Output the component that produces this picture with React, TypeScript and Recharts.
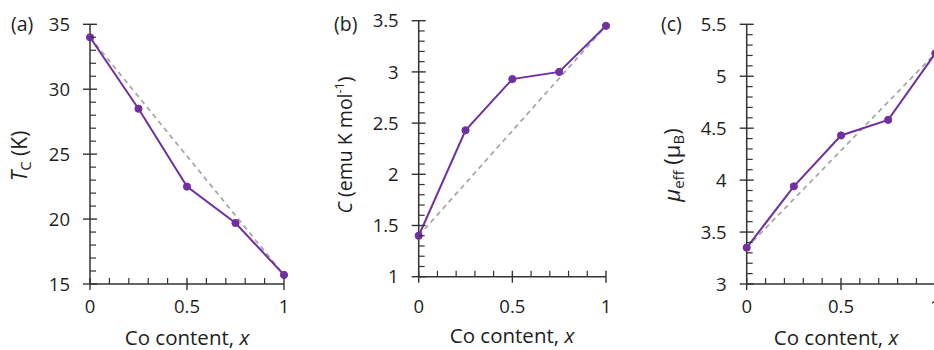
import React from 'react';
import { LineChart, Line, XAxis, YAxis } from 'recharts';

// ---------- data ----------
const coContent = [0, 0.25, 0.5, 0.75, 1];

const curieTemp = [34.0, 28.5, 22.5, 19.7, 15.7];
const curieTempTrend = [34.0, null, null, null, 15.7];

const curieConst = [1.4, 2.43, 2.93, 3.0, 3.45];
const curieConstTrend = [1.4, null, null, null, 3.45];

const muEff = [3.35, 3.94, 4.43, 4.58, 5.22];
const muEffTrend = [3.35, null, null, null, 5.22];

// ---------- ticks ----------
const xMajorTicks = [0, 0.5, 1];
const xTickLabels = ['0', '0.5', '1'];

const tcMajorTicks = [15, 20, 25, 30, 35];
const tcTickLabels = ['15', '20', '25', '30', '35'];

const cMajorTicks = [1, 1.5, 2, 2.5, 3, 3.5];
const cTickLabels = ['1', '1.5', '2', '2.5', '3', '3.5'];

const muMajorTicks = [3, 3.5, 4, 4.5, 5, 5.5];
const muTickLabels = ['3', '3.5', '4', '4.5', '5', '5.5'];

const tickRange = (start: number, stop: number, step: number) => {
  const out: number[] = [];
  const n = Math.round((stop - start) / step);
  for (let i = 0; i <= n; i++) out.push(Math.round((start + i * step) * 1000) / 1000);
  return out;
};

const xMinorTicks = tickRange(0, 1, 0.1);
const tcMinorTicks = tickRange(15, 35, 1);
const cMinorTicks = tickRange(1, 3.5, 0.1);
const muMinorTicks = tickRange(3, 5.5, 0.1);

// ---------- styles ----------
const FONT = "'Open Sans', 'Noto Sans', sans-serif";
const TEXT = '#1e1e1e';
const AXIS = '#333333';
const PURPLE = '#7030A0';
const GREY = '#A8A8A8';
const W = 940;
const H = 350;
const TICK_FS = 18.5;

const findIndex = (list: number[], v: number) => list.findIndex((m) => Math.abs(m - v) < 1e-6);

const XTick = (props: any) => {
  const { x, y, payload, labelDy } = props;
  const idx = findIndex(xMajorTicks, payload.value);
  if (idx >= 0) {
    return (
      <g>
        <line x1={x} x2={x} y1={y - 6} y2={y + 6} stroke={AXIS} strokeWidth={1.4} />
        <text x={x} y={y + labelDy} textAnchor="middle" fontFamily={FONT} fontSize={TICK_FS} fill={TEXT}>
          {xTickLabels[idx]}
        </text>
      </g>
    );
  }
  return <line x1={x} x2={x} y1={y} y2={y - 6} stroke={AXIS} strokeWidth={1.2} />;
};

const YTick = (props: any) => {
  const { x, y, payload, majors, labels } = props;
  const idx = findIndex(majors, payload.value);
  if (idx >= 0) {
    return (
      <g>
        <line x1={x - 7} x2={x + 7} y1={y} y2={y} stroke={AXIS} strokeWidth={1.4} />
        <text x={x - 20} y={y} dy="0.36em" textAnchor="end" fontFamily={FONT} fontSize={TICK_FS} fill={TEXT}>
          {labels[idx]}
        </text>
      </g>
    );
  }
  return <line x1={x} x2={x + 6} y1={y} y2={y} stroke={AXIS} strokeWidth={1.2} />;
};

type PanelProps = {
  values: number[];
  trend: (number | null)[];
  yDomain: [number, number];
  yMajors: number[];
  yLabels: string[];
  yMinors: number[];
  left: number;
  right: number;
  top: number;
  bottom: number;
  labelDy: number;
};

const Panel = (p: PanelProps) => {
  const data = coContent.map((x, i) => ({ x, value: p.values[i], trend: p.trend[i] }));
  return (
    <div style={{ position: 'absolute', left: 0, top: 0 }}>
      <LineChart
        width={W}
        height={H}
        data={data}
        margin={{ top: p.top, left: p.left - 1, right: W - p.right, bottom: H - p.bottom - 1 }}
      >
        <XAxis
          dataKey="x"
          type="number"
          domain={[0, 1]}
          ticks={xMinorTicks}
          interval={0}
          height={1}
          tickSize={0}
          tickMargin={0}
          tickLine={false}
          axisLine={{ stroke: AXIS, strokeWidth: 1.5 }}
          tick={(tp: any) => <XTick {...tp} labelDy={p.labelDy} />}
        />
        <YAxis
          type="number"
          domain={p.yDomain}
          ticks={p.yMinors}
          interval={0}
          width={1}
          tickSize={0}
          tickMargin={0}
          tickLine={false}
          allowDataOverflow
          axisLine={{ stroke: AXIS, strokeWidth: 1.5 }}
          tick={(tp: any) => <YTick {...tp} majors={p.yMajors} labels={p.yLabels} />}
        />
        <Line
          dataKey="trend"
          type="linear"
          connectNulls
          stroke={GREY}
          strokeWidth={1.8}
          strokeDasharray="5 4"
          dot={false}
          activeDot={false}
          isAnimationActive={false}
        />
        <Line
          dataKey="value"
          type="linear"
          stroke={PURPLE}
          strokeWidth={2}
          dot={{ r: 3.6, fill: PURPLE, stroke: PURPLE, strokeWidth: 1 }}
          activeDot={false}
          isAnimationActive={false}
        />
      </LineChart>
    </div>
  );
};

const XTitle = ({ cx, y }: { cx: number; y: number }) => (
  <text x={cx} y={y} textAnchor="middle" fontFamily={FONT} fontSize={20.5} fill={TEXT}>
    Co content, <tspan fontStyle="italic">x</tspan>
  </text>
);

export default function App() {
  return (
    <div
      style={{
        position: 'absolute',
        left: 0,
        top: 0,
        width: 934,
        height: 350,
        overflow: 'hidden',
        background: '#ffffff',
      }}
    >
      <Panel
        values={curieTemp}
        trend={curieTempTrend}
        yDomain={[15, 35]}
        yMajors={tcMajorTicks}
        yLabels={tcTickLabels}
        yMinors={tcMinorTicks}
        left={90}
        right={284}
        top={24.3}
        bottom={284}
        labelDy={29}
      />
      <Panel
        values={curieConst}
        trend={curieConstTrend}
        yDomain={[1, 3.5]}
        yMajors={cMajorTicks}
        yLabels={cTickLabels}
        yMinors={cMinorTicks}
        left={418.7}
        right={606}
        top={20.7}
        bottom={276.7}
        labelDy={36}
      />
      <Panel
        values={muEff}
        trend={muEffTrend}
        yDomain={[3, 5.5]}
        yMajors={muMajorTicks}
        yLabels={muTickLabels}
        yMinors={muMinorTicks}
        left={746.7}
        right={935.3}
        top={24.3}
        bottom={284}
        labelDy={29}
      />
      <svg
        width={934}
        height={350}
        style={{ position: 'absolute', left: 0, top: 0, pointerEvents: 'none' }}
      >
        {/* panel letters */}
        <text x={11} y={31} fontFamily={FONT} fontSize={19.5} fill={TEXT}>(a)</text>
        <text x={334} y={31} fontFamily={FONT} fontSize={19.5} fill={TEXT}>(b)</text>
        <text x={661} y={31} fontFamily={FONT} fontSize={19.5} fill={TEXT}>(c)</text>

        {/* x titles */}
        <XTitle cx={187} y={345} />
        <XTitle cx={512} y={343} />
        <XTitle cx={836} y={345} />

        {/* y titles */}
        <text
          transform="translate(27,156) rotate(-90)"
          textAnchor="middle"
          fontFamily={FONT}
          fontSize={21}
          fill={TEXT}
        >
          <tspan fontStyle="italic">T</tspan>
          <tspan fontSize={15} dy={4}>C</tspan>
          <tspan dy={-4}> (K)</tspan>
        </text>
        <text
          transform="translate(352,145) rotate(-90)"
          textAnchor="middle"
          fontFamily={FONT}
          fontSize={19.5}
          fill={TEXT}
        >
          <tspan fontStyle="italic">C</tspan>
          <tspan> (emu K mol</tspan>
          <tspan fontSize={12.5} dy={-8}>-1</tspan>
          <tspan dy={8}>)</tspan>
        </text>
        <text
          transform="translate(680,165) rotate(-90)"
          textAnchor="middle"
          fontFamily={FONT}
          fontSize={22}
          fill={TEXT}
        >
          <tspan fontStyle="italic">μ</tspan>
          <tspan fontSize={15} dy={4}>eff</tspan>
          <tspan dy={-4}>{'\u00A0'}(μ</tspan>
          <tspan fontSize={15} dy={4}>B</tspan>
          <tspan dy={-4}>)</tspan>
        </text>
      </svg>
    </div>
  );
}
